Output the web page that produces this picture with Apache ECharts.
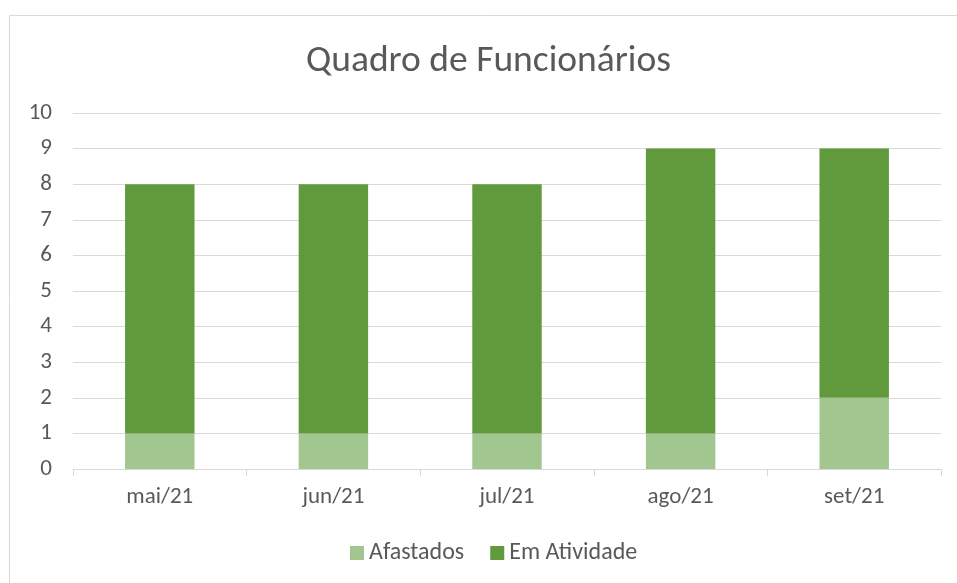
<!DOCTYPE html>
<html>
<head>
<meta charset="utf-8">
<script src="https://cdn.jsdelivr.net/npm/echarts@6/dist/echarts.min.js"></script>
<style>
  html, body { margin: 0; padding: 0; background: #fff; }
  #chart { width: 957px; height: 583px; }
</style>
</head>
<body>
<div id="chart"></div>
<script>
const meses = ['mai/21', 'jun/21', 'jul/21', 'ago/21', 'set/21']
const afastados = [1, 1, 1, 1, 2]
const emAtividade = [7, 7, 7, 8, 7]

const fonte = 'Calibri, Carlito, "Open Sans", "Noto Sans", sans-serif'
const cinzaTexto = '#595959'
const cinzaLinha = '#d9d9d9'

var myChart = echarts.init(document.getElementById('chart'))

var option = {
  backgroundColor: '#fff',
  title: {
    text: 'Quadro de Funcionários',
    left: 306,
    top: 43,
    padding: 0,
    textStyle: { fontFamily: fonte, fontSize: 37.5, fontWeight: 'normal', color: cinzaTexto }
  },
  graphic: [{
    type: 'rect',
    shape: { x: 9.5, y: 15.5, width: 960, height: 600 },
    style: { fill: 'none', stroke: cinzaLinha, lineWidth: 1 },
    silent: true
  }],
  legend: {
    top: 541,
    left: 350,
    padding: 0,
    itemWidth: 14,
    itemHeight: 14,
    itemGap: 26,
    icon: 'rect',
    textStyle: { fontFamily: fonte, fontSize: 24, color: cinzaTexto },
    data: ['Afastados', 'Em Atividade']
  },
  grid: { left: 73, right: 16, top: 113, bottom: 114 },
  xAxis: {
    type: 'category',
    data: meses,
    axisLine: { lineStyle: { color: cinzaLinha } },
    axisTick: { show: true, length: 7, lineStyle: { color: cinzaLinha } },
    axisLabel: { fontFamily: fonte, fontSize: 23, color: cinzaTexto, margin: 17 }
  },
  yAxis: {
    type: 'value',
    min: 0,
    max: 10,
    interval: 1,
    axisLine: { show: false },
    axisTick: { show: false },
    splitLine: { lineStyle: { color: cinzaLinha } },
    axisLabel: { fontFamily: fonte, fontSize: 23, color: cinzaTexto, margin: 21 }
  },
  series: [
    {
      name: 'Afastados',
      type: 'bar',
      stack: 'total',
      barWidth: '40%',
      itemStyle: { color: '#a1c690' },
      data: afastados
    },
    {
      name: 'Em Atividade',
      type: 'bar',
      stack: 'total',
      barWidth: '40%',
      itemStyle: { color: '#619a3d' },
      data: emAtividade
    }
  ]
}

myChart.setOption(option)
</script>
</body>
</html>
